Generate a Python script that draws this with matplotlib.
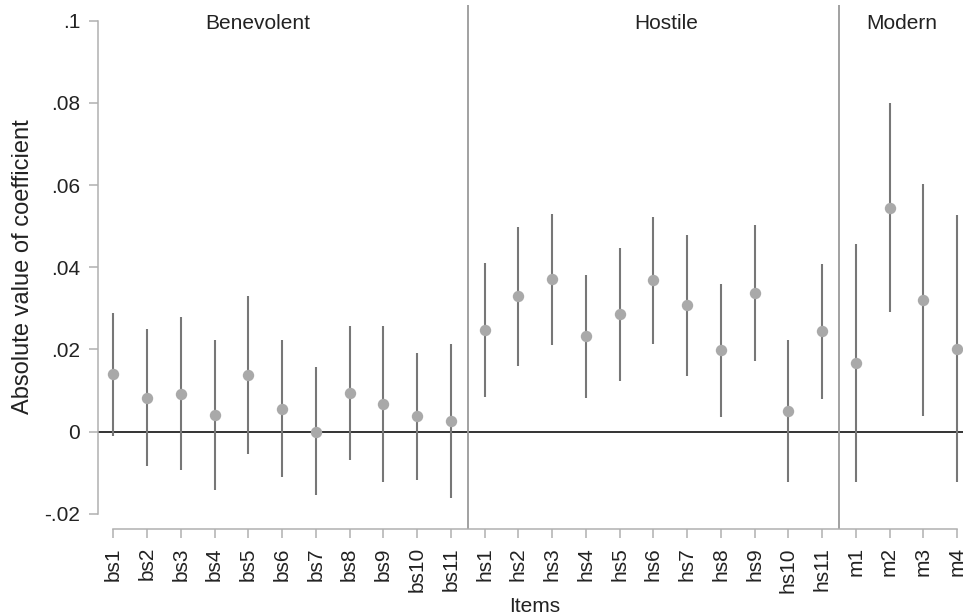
import numpy as np
import matplotlib
matplotlib.use("Agg")
import matplotlib.pyplot as plt

plt.rcParams['font.family'] = ['Liberation Sans', 'DejaVu Sans']

# item labels and estimates with 95% CI bounds
items = ['bs1', 'bs2', 'bs3', 'bs4', 'bs5', 'bs6', 'bs7', 'bs8', 'bs9', 'bs10', 'bs11',
         'hs1', 'hs2', 'hs3', 'hs4', 'hs5', 'hs6', 'hs7', 'hs8', 'hs9', 'hs10', 'hs11',
         'm1', 'm2', 'm3', 'm4']
coef = [0.0139, 0.0081, 0.0091, 0.0041, 0.0137, 0.0055, 0.0000, 0.0093, 0.0067, 0.0037, 0.0025,
        0.0248, 0.0330, 0.0371, 0.0232, 0.0285, 0.0368, 0.0307, 0.0198, 0.0338, 0.0050, 0.0244,
        0.0166, 0.0545, 0.0320, 0.0202]
ci_hi = [0.0289, 0.0249, 0.0278, 0.0224, 0.0331, 0.0223, 0.0156, 0.0257, 0.0256, 0.0192, 0.0212,
         0.0411, 0.0498, 0.0530, 0.0382, 0.0447, 0.0522, 0.0479, 0.0360, 0.0502, 0.0224, 0.0408,
         0.0457, 0.0799, 0.0603, 0.0527]
ci_lo = [-0.0011, -0.0085, -0.0093, -0.0142, -0.0054, -0.0111, -0.0154, -0.0069, -0.0122, -0.0118, -0.0161,
         0.0085, 0.0160, 0.0211, 0.0081, 0.0123, 0.0213, 0.0136, 0.0036, 0.0172, -0.0123, 0.0080,
         -0.0124, 0.0291, 0.0037, -0.0124]

groups = ['Benevolent', 'Hostile', 'Modern']
group_label_x = [5.29, 17.38, 24.37]
group_breaks = [11.5, 22.5]

yticks = [-0.02, 0, 0.02, 0.04, 0.06, 0.08, 0.1]
ytick_labels = ['-.02', '0', '.02', '.04', '.06', '.08', '.1']

x = np.arange(1, len(items) + 1)

fig = plt.figure(figsize=(9.63, 6.16), dpi=100)
ax = fig.add_axes([0.1021, 0.1412, 0.898, 0.8506])

ax.axhline(0, color='#333333', lw=1.4, zorder=1)
for b in group_breaks:
    ax.axvline(b, color='#9a9a9a', lw=1.3, zorder=1)

ax.vlines(x, ci_lo, ci_hi, color='#777777', lw=1.5, zorder=2)
ax.plot(x, coef, 'o', color='#a9a9a9', ms=8.2, mec='none', zorder=3)

for name, gx in zip(groups, group_label_x):
    ax.text(gx, 0.0993, name, ha='center', va='center', fontsize=15, color='#222222')

ax.set_xlim(0.5554, 26.18)
ax.set_ylim(-0.02373, 0.10383)

ax.set_xticks(x)
ax.set_xticklabels(items, rotation=90, fontsize=15, color='#222222')
ax.set_yticks(yticks)
ax.set_yticklabels(ytick_labels, fontsize=15, color='#222222')

for spine in ['top', 'right']:
    ax.spines[spine].set_visible(False)
ax.spines['left'].set_bounds(-0.02, 0.1)
ax.spines['bottom'].set_bounds(1, 26)
for spine in ['left', 'bottom']:
    ax.spines[spine].set_color('#b0b0b0')
    ax.spines[spine].set_linewidth(1.1)
ax.tick_params(axis='both', length=6.5, width=1.1, color='#b0b0b0', pad=6.5)

ax.set_xlabel('Items', fontsize=15, color='#222222')
ax.xaxis.set_label_coords(0.505, -0.130)
ax.set_ylabel('Absolute value of coefficient', fontsize=17, color='#222222', va='center')
ax.yaxis.set_label_coords(-0.087, 0.5)

plt.savefig('out.png', dpi=100)
